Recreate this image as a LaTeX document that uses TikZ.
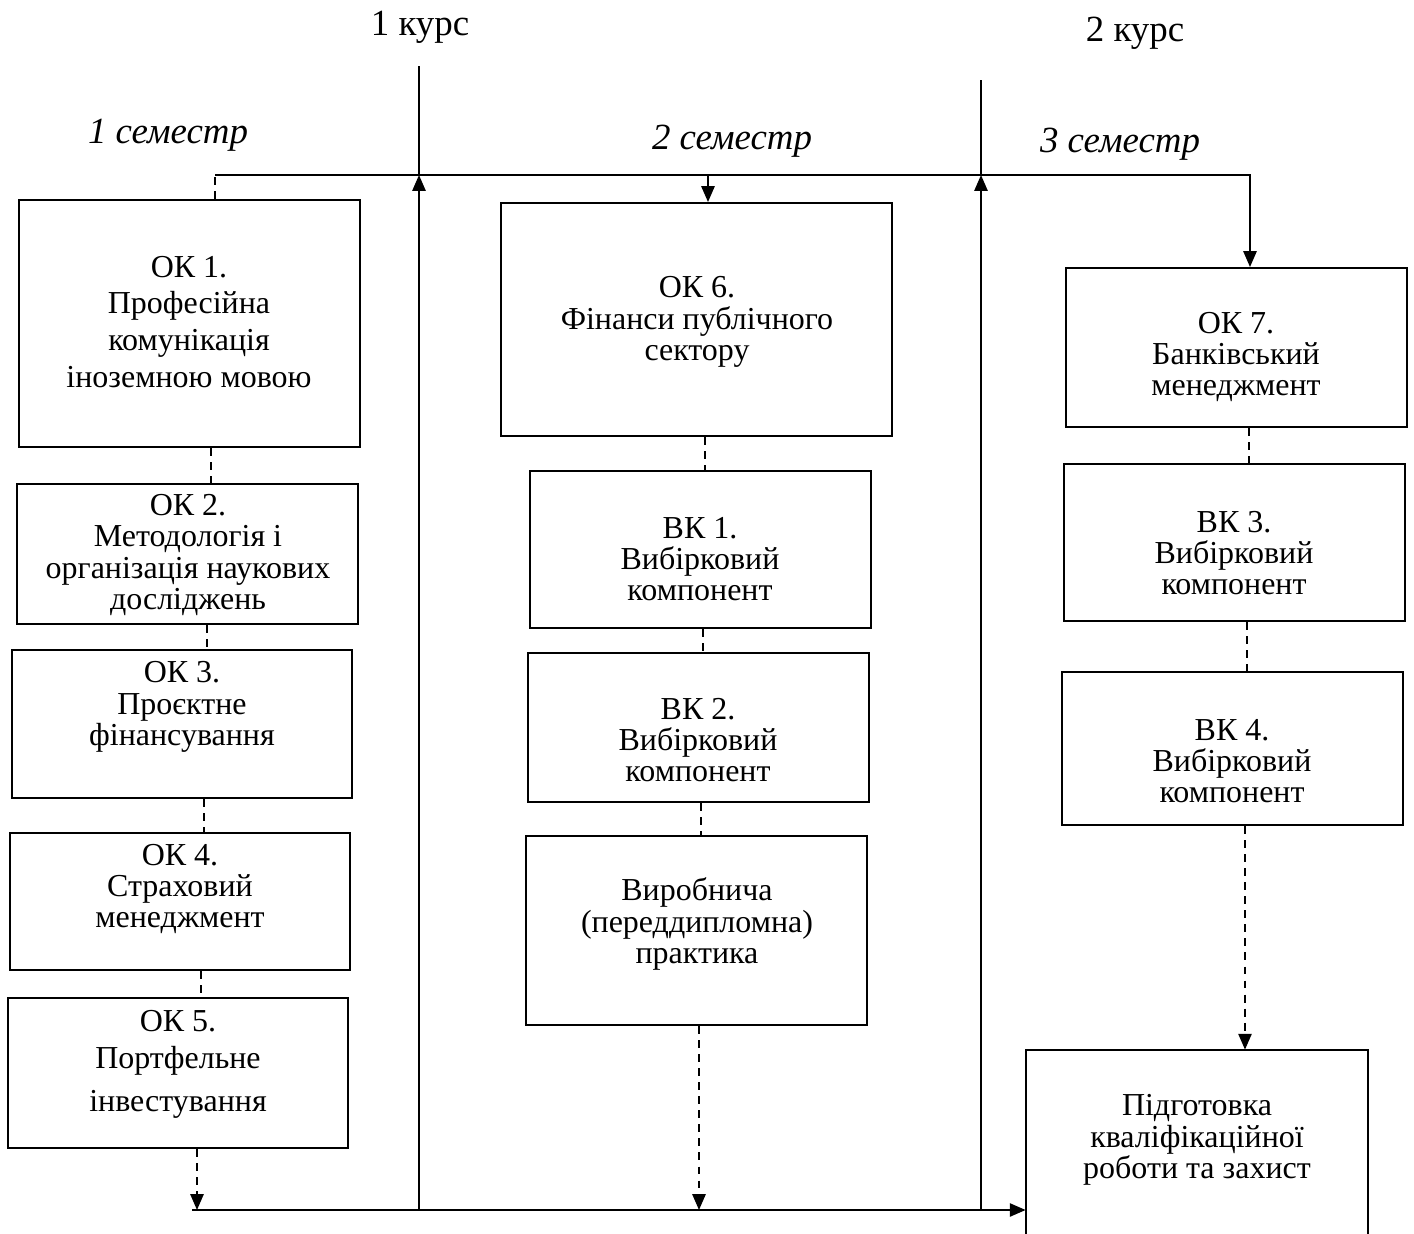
\documentclass[tikz,border=0pt]{standalone}
\usepackage{fontspec}
\setmainfont{Liberation Serif}
\usetikzlibrary{arrows.meta,fit}
\begin{document}
\begin{tikzpicture}[x=0.02cm,y=-0.02cm,
  box/.style={draw,line width=1.1pt,inner sep=0pt},
  txt/.style={align=center,inner sep=0pt,font=\fontsize{18.2}{17.8}\selectfont},
  hdr/.style={inner sep=0pt,font=\fontsize{21}{22}\selectfont},
  sem/.style={inner sep=0pt,font=\fontsize{21}{22}\selectfont\itshape},
  ln/.style={line width=1.1pt},
  dsh/.style={ln,dash pattern=on 4.5pt off 3.5pt},
  arr/.style={-{Triangle[length=9pt,width=7.5pt]}}]
\useasboundingbox (0,0) rectangle (1414,1234);

% headers
\node[hdr] (k1) at (420,27) {1 курс};
\node[hdr] (k2) at (1135,33) {2 курс};
\node[sem] (s1) at (168,135) {1 семестр};
\node[sem] (s2) at (732,141) {2 семестр};
\node[sem] (s3) at (1120,144) {3 семестр};

% boxes column 1
\node[box,fit={(19,200) (360,447)}] (ok1) {};
\node[txt,font=\fontsize{18.2}{21}\selectfont] (t1) at (189,322) {ОК 1.\\Професійна\\комунікація\\іноземною мовою};
\node[box,fit={(17,484) (358,624)}] (ok2) {};
\node[txt] (t2) at (188,555) {ОК 2.\\Методологія і\\організація наукових\\досліджень};
\node[box,fit={(12,650) (352,798)}] (ok3) {};
\node[txt] (t3) at (182,707) {ОК 3.\\Проєктне\\фінансування};
\node[box,fit={(10,833) (350,970)}] (ok4) {};
\node[txt] (t4) at (180,889) {ОК 4.\\Страховий\\менеджмент};
\node[box,fit={(8,998) (348,1148)}] (ok5) {};
\node[txt] (t5) at (178,1064) {ОК 5.\\[3.2pt]Портфельне\\[6.6pt]інвестування};

% column 2
\node[box,fit={(501,203) (892,436)}] (ok6) {};
\node[txt] (t6) at (697,322) {ОК 6.\\Фінанси публічного\\сектору};
\node[box,fit={(530,471) (871,628)}] (bk1) {};
\node[txt] (t7) at (700,559) {ВК 1.\\Вибірковий\\компонент};
\node[box,fit={(528,653) (869,802)}] (bk2) {};
\node[txt] (t8) at (698,740) {ВК 2.\\Вибірковий\\компонент};
\node[box,fit={(526,836) (867,1025)}] (pr) {};
\node[txt] (t9) at (697,924) {Виробнича\\(переддипломна)\\практика};

% column 3
\node[box,fit={(1066,268) (1407,427)}] (ok7) {};
\node[txt] (t10) at (1236,357) {ОК 7.\\Банківський\\менеджмент};
\node[box,fit={(1064,464) (1405,621)}] (bk3) {};
\node[txt] (t11) at (1234,553) {ВК 3.\\Вибірковий\\компонент};
\node[box,fit={(1062,672) (1403,825)}] (bk4) {};
\node[txt] (t12) at (1232,761) {ВК 4.\\Вибірковий\\компонент};
\node[inner sep=0pt,fit={(1026,1050) (1368,1236)}] (fin) {};
\draw[ln] (fin.south west) -- (fin.north west) -- (fin.north east) -- (fin.south east);
\node[txt] (t13) at (1197,1140) {Підготовка\\кваліфікаційної\\роботи та захист};

% guide coordinates
\coordinate (top) at (0,175);
\coordinate (bot) at (0,1210);
\coordinate (d1) at (211,0);
\coordinate (d2) at (207,0);
\coordinate (d3) at (204,0);
\coordinate (d4) at (201,0);
\coordinate (d5) at (197,0);
\coordinate (d0) at (215,0);
\coordinate (m0) at (708,0);
\coordinate (m1) at (705,0);
\coordinate (m2) at (703,0);
\coordinate (m3) at (701,0);
\coordinate (m4) at (699,0);
\coordinate (r0) at (1250,0);
\coordinate (r1) at (1249,0);
\coordinate (r2) at (1247,0);
\coordinate (r3) at (1245,0);
\coordinate (v1t) at (419,66);
\coordinate (v2t) at (981,80);
\coordinate (bl) at (192,1210);

% dashed chains
\draw[dsh] (ok1.north -| d0) -- (top -| d0);
\draw[dsh] (ok1.south -| d1) -- (ok2.north -| d1);
\draw[dsh] (ok2.south -| d2) -- (ok3.north -| d2);
\draw[dsh] (ok3.south -| d3) -- (ok4.north -| d3);
\draw[dsh] (ok4.south -| d4) -- (ok5.north -| d4);
\draw[dsh,arr] (ok5.south -| d5) -- (bot -| d5);

\draw[dsh] (ok6.south -| m1) -- (bk1.north -| m1);
\draw[dsh] (bk1.south -| m2) -- (bk2.north -| m2);
\draw[dsh] (bk2.south -| m3) -- (pr.north -| m3);
\draw[dsh,arr] (pr.south -| m4) -- (bot -| m4);

\draw[dsh] (ok7.south -| r1) -- (bk3.north -| r1);
\draw[dsh] (bk3.south -| r2) -- (bk4.north -| r2);
\draw[dsh,arr] (bk4.south -| r3) -- (fin.north -| r3);

% top line
\draw[ln,arr] (top -| d0) -- (top -| r0) -- (ok7.north -| r0);
\draw[ln,arr] (top -| m0) -- (ok6.north -| m0);

% bottom line
\draw[ln,arr] (bl) -- (bot -| fin.west);

% vertical dividers
\draw[ln,arr] (bot -| v1t) -- (top -| v1t);
\draw[ln] (top -| v1t) -- (v1t);
\draw[ln,arr] (bot -| v2t) -- (top -| v2t);
\draw[ln] (top -| v2t) -- (v2t);
\end{tikzpicture}
\end{document}
